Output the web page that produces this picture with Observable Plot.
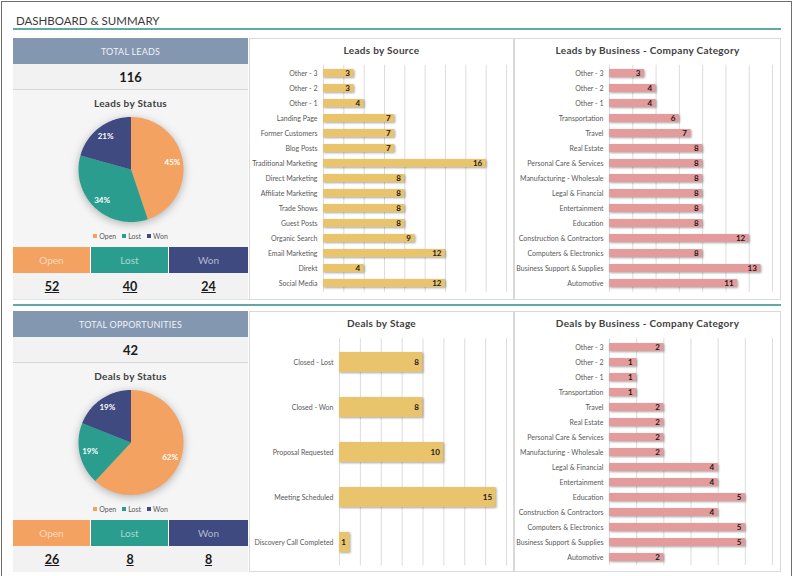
<!DOCTYPE html>
<html>
<head>
<meta charset="utf-8">
<script src="https://cdn.jsdelivr.net/npm/d3@7"></script>
<script src="https://cdn.jsdelivr.net/npm/@observablehq/plot@0.6"></script>
<style>
  body { margin: 0; background: #fff; font-family: Lato, "Open Sans", sans-serif; }
  #page { position: relative; width: 794px; height: 576px; overflow: hidden; background: #fff; }
  .abs { position: absolute; box-sizing: border-box; }
  .center { display: flex; align-items: center; justify-content: center; }
  .bars g[aria-label="bar"] { filter: drop-shadow(1.5px 1.5px 1px rgba(0,0,0,0.35)); }
  .bars g[aria-label="y-axis tick label"] text { fill: #595959; }
  .pie g[aria-label="geo"] { filter: drop-shadow(0px 2px 4px rgba(0,0,0,0.28)); }
  .abs svg { position: absolute; left: 0; top: 0; }
</style>
</head>
<body>
<div id="page"></div>
<script>
// ---- Status breakdown ----
const statusLabels = ["Open", "Lost", "Won"];
const statusColors = ["#f3a261", "#2a9d8e", "#3e4a80"];
const leadStatusCounts = [52, 40, 24];
const dealStatusCounts = [26, 8, 8];

// ---- Leads by source ----
const leadSources = ["Other - 3", "Other - 2", "Other - 1", "Landing Page", "Former Customers", "Blog Posts",
  "Traditional Marketing", "Direct Marketing", "Affiliate Marketing", "Trade Shows", "Guest Posts",
  "Organic Search", "Email Marketing", "Direkt", "Social Media"];
const leadSourceCounts = [3, 3, 4, 7, 7, 7, 16, 8, 8, 8, 8, 9, 12, 4, 12];

// ---- Business / company categories ----
const businessCategories = ["Other - 3", "Other - 2", "Other - 1", "Transportation", "Travel", "Real Estate",
  "Personal Care & Services", "Manufacturing - Wholesale", "Legal & Financial", "Entertainment", "Education",
  "Construction & Contractors", "Computers & Electronics", "Business Support & Supplies", "Automotive"];
const leadBusinessCounts = [3, 4, 4, 6, 7, 8, 8, 8, 8, 8, 8, 12, 8, 13, 11];
const dealBusinessCounts = [2, 1, 1, 1, 2, 2, 2, 2, 4, 4, 5, 4, 5, 5, 2];

// ---- Deals by stage ----
const dealStages = ["Closed - Lost", "Closed - Won", "Proposal Requested", "Meeting Scheduled", "Discovery Call Completed"];
const dealStageCounts = [8, 8, 10, 15, 1];

// ---- Gridline positions for the bar charts ----
const gridLeadSource = [0, 2, 4, 6, 8, 10, 12, 14, 16, 18];
const gridLeadBusiness = [0, 2, 4, 6, 8, 10, 12, 14];
const gridDealStage = [0, 2, 4, 6, 8, 10, 12, 14, 16];
const gridDealBusiness = [0, 1, 2, 3, 4, 5, 6];

const FONT = "Lato, 'Open Sans', sans-serif";
const LABEL_GRAY = "#595959";
const page = document.getElementById("page");

function box(x, y, w, h, style = {}, html = null, cls = "") {
  const d = document.createElement("div");
  d.className = "abs " + cls;
  Object.assign(d.style, {left: x + "px", top: y + "px", width: w + "px", height: h + "px"}, style);
  if (html != null) d.innerHTML = html;
  page.appendChild(d);
  return d;
}

// Outer frame, heading and section rules
box(1, 1, 791, 580, {border: "1px solid #6f6f6f"});
box(16, 12, 300, 18, {fontSize: "11.5px", color: "#3a3a3a", lineHeight: "18px"}, "DASHBOARD &amp; SUMMARY");
box(13, 28, 768, 2, {background: "#62a8a6"});
box(13, 299, 768, 1, {background: "#e2e2e2"});
box(13, 304, 768, 2, {background: "#62a8a6"});

// ---- Horizontal bar chart panel ----
function barPanel({x, y, w, h, title, categories, values, max, grid, color, ml, mr, mt, mb, pad}) {
  box(x, y, w, h, {border: "1px solid #d9d9d9", background: "#fff"});
  box(x, y + 4, w, 16, {fontSize: "10px", fontWeight: "bold", color: "#404040", letterSpacing: "0.3px"}, title, "center");
  const data = categories.map((c, i) => ({category: c, value: values[i]}));
  const chart = Plot.plot({
    width: w, height: h,
    marginTop: mt, marginBottom: mb, marginLeft: ml, marginRight: mr,
    style: {fontFamily: FONT, fontSize: "7px", color: LABEL_GRAY, background: "transparent", overflow: "visible"},
    x: {domain: [0, max], axis: null},
    y: {domain: categories, paddingInner: pad, paddingOuter: pad / 2, axis: null},
    marks: [
      Plot.ruleX(grid, {stroke: "#dcdcdc", strokeWidth: 1}),
      Plot.barX(data, {x: "value", y: "category", fill: color}),
      Plot.text(data, {x: "value", y: "category", text: d => String(d.value), textAnchor: "end", dx: -4,
        fontWeight: "bold", fontSize: 8, fill: "#1a1a1a"}),
      Plot.axisY({tickSize: 0, tickPadding: 6, label: null, fill: LABEL_GRAY})
    ]
  });
  const holder = box(x, y, w, h, {}, null, "bars");
  holder.appendChild(chart);
}

// ---- Status column (total, pie, status tiles) ----
function statusColumn({y, heading, counts, pieTitle}) {
  const x = 13, w = 235;
  const total = d3.sum(counts);
  box(x, y, w, 26, {background: "#8497b0", color: "#eef2f7", fontSize: "9px", letterSpacing: "0.2px"}, heading, "center");
  box(x, y + 26, w, 26, {background: "#f2f2f2", borderBottom: "1px solid #d6d6d6", fontSize: "13px", fontWeight: "bold", color: "#1a1a1a"}, String(total), "center");
  box(x, y + 52, w, 157, {background: "#f5f5f5"});
  box(x, y + 58, w, 14, {fontSize: "10px", fontWeight: "bold", color: "#404040", letterSpacing: "0.3px"}, pieTitle, "center");

  // pie slices as planar polygons, angles clockwise from 12 o'clock
  const arcs = d3.pie().sort(null)(counts);
  const slices = arcs.map((a, i) => {
    const n = Math.max(2, Math.ceil((a.endAngle - a.startAngle) / 0.02));
    const ring = [[0, 0]];
    for (let k = 0; k <= n; k++) {
      const t = a.startAngle + (a.endAngle - a.startAngle) * k / n;
      ring.push([Math.sin(t), -Math.cos(t)]);
    }
    ring.push([0, 0]);
    return {type: "Feature", properties: {status: statusLabels[i]}, geometry: {type: "Polygon", coordinates: [ring]}};
  });
  const pct = d3.format(".0%");
  const labels = arcs.map(a => {
    const m = (a.startAngle + a.endAngle) / 2;
    return {x: 0.8 * Math.sin(m), y: -0.8 * Math.cos(m), text: pct(a.value / total)};
  });
  const pie = Plot.plot({
    width: w, height: 118,
    marginLeft: 65, marginRight: 65, marginTop: 6.5, marginBottom: 6.5,
    style: {fontFamily: FONT, background: "transparent", overflow: "visible"},
    projection: {type: "identity", domain: {type: "MultiPoint", coordinates: [[-1, -1], [1, 1]]}},
    color: {domain: statusLabels, range: statusColors},
    marks: [
      Plot.geo(slices, {fill: d => d.properties.status, stroke: "none"}),
      Plot.text(labels, {x: "x", y: "y", text: "text", fill: "white", fontWeight: "bold", fontSize: 8})
    ]
  });
  const holder = box(x, y + 72, w, 118, {}, null, "pie");
  holder.appendChild(pie);

  // legend
  const legend = statusLabels.map((s, i) =>
    `<span style="display:inline-flex;align-items:center;margin:0 3px"><span style="display:inline-block;width:4px;height:4px;background:${statusColors[i]};margin-right:2px"></span>${s}</span>`).join("");
  box(x, y + 192, w, 12, {fontSize: "7px", color: LABEL_GRAY}, legend, "center");

  // status tiles and counts
  const tileW = [78, 78, 79];
  let tx = x;
  statusLabels.forEach((s, i) => {
    box(tx, y + 209, tileW[i] - (i < 2 ? 1 : 0), 26, {background: statusColors[i], color: "rgba(255,255,255,0.6)", fontSize: "10px"}, s, "center");
    box(tx, y + 235, tileW[i], 26, {background: "#f2f2f2", fontSize: "12.5px", fontWeight: "bold", color: "#1a1a1a", textDecoration: "underline"}, String(counts[i]), "center");
    tx += tileW[i];
  });
}

statusColumn({y: 38, heading: "TOTAL LEADS", counts: leadStatusCounts, pieTitle: "Leads by Status"});
statusColumn({y: 311, heading: "TOTAL OPPORTUNITIES", counts: dealStatusCounts, pieTitle: "Deals by Status"});

barPanel({x: 249, y: 38, w: 265, h: 262, title: "Leads by Source", categories: leadSources, values: leadSourceCounts,
  max: 18, grid: gridLeadSource, color: "#eac46c", ml: 74, mr: 8, mt: 26.7, mb: 8.2, pad: 0.47});
barPanel({x: 514, y: 38, w: 267, h: 262, title: "Leads by Business - Company Category", categories: businessCategories,
  values: leadBusinessCounts, max: 14, grid: gridLeadBusiness, color: "#e49b9b", ml: 95, mr: 9, mt: 26.7, mb: 8.2, pad: 0.47});
barPanel({x: 249, y: 311, w: 265, h: 261, title: "Deals by Stage", categories: dealStages, values: dealStageCounts,
  max: 16, grid: gridDealStage, color: "#eac46c", ml: 90, mr: 8, mt: 27.3, mb: 6.6, pad: 0.56});
barPanel({x: 514, y: 311, w: 267, h: 261, title: "Deals by Business - Company Category", categories: businessCategories,
  values: dealBusinessCounts, max: 6, grid: gridDealBusiness, color: "#e49b9b", ml: 95, mr: 9, mt: 27.1, mb: 7, pad: 0.47});
</script>
</body>
</html>
